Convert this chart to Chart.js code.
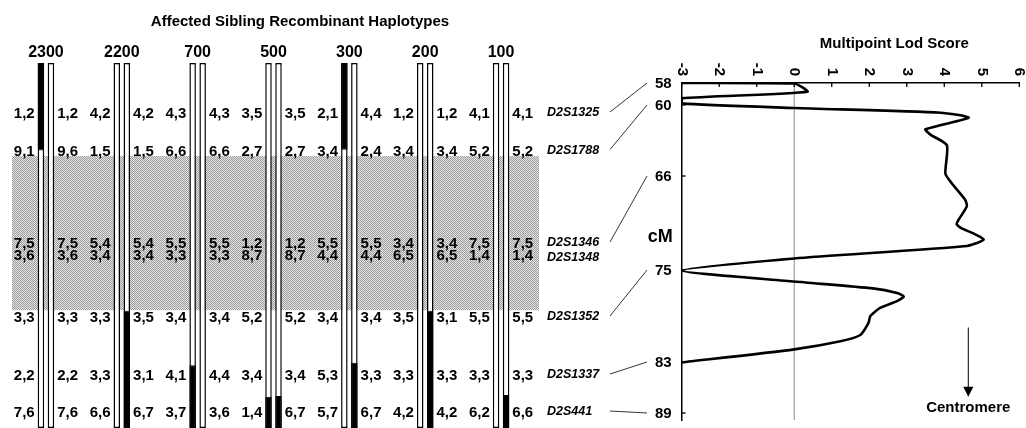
<!DOCTYPE html>
<html lang="en">
<head>
<meta charset="UTF-8">
<title>Affected Sibling Recombinant Haplotypes - Multipoint Lod Score</title>
<script src="https://cdn.jsdelivr.net/npm/chart.js@4.4.2/dist/chart.umd.min.js"></script>
<style>
    html, body { margin: 0; padding: 0; background: #fff; }
    #wrap { position: relative; width: 1026px; height: 428px; overflow: hidden; }
    #hapChart { position: absolute; left: 0; top: 0; }
    #lodChart { position: absolute; left: 600px; top: 0; }
</style>
</head>
<body>
<div id="wrap">
    <canvas id="hapChart" width="620" height="428"></canvas>
    <canvas id="lodChart" width="426" height="428"></canvas>
</div>

<script>
// --- data ---
const families = ['2300', '2200', '700', '500', '300', '200', '100'];
const markers = ['D2S1325', 'D2S1788', 'D2S1346', 'D2S1348', 'D2S1352', 'D2S1337', 'D2S441'];
const markerCM = [58, 60, 66, null, 75, 83, 89];

// alleles written left / right of each chromosome pair, one row per marker
const allelesLeft = [
    ['1,2', '4,2', '4,3', '3,5', '2,1', '1,2', '4,1'],
    ['9,1', '1,5', '6,6', '2,7', '3,4', '3,4', '5,2'],
    ['7,5', '5,4', '5,5', '1,2', '5,5', '3,4', '7,5'],
    ['3,6', '3,4', '3,3', '8,7', '4,4', '6,5', '1,4'],
    ['3,3', '3,3', '3,4', '5,2', '3,4', '3,5', '5,5'],
    ['2,2', '3,3', '4,1', '3,4', '5,3', '3,3', '3,3'],
    ['7,6', '6,6', '3,7', '1,4', '5,7', '4,2', '6,2']
];
const allelesRight = [
    ['1,2', '4,2', '4,3', '3,5', '4,4', '1,2', '4,1'],
    ['9,6', '1,5', '6,6', '2,7', '2,4', '3,4', '5,2'],
    ['7,5', '5,4', '5,5', '1,2', '5,5', '3,4', '7,5'],
    ['3,6', '3,4', '3,3', '8,7', '4,4', '6,5', '1,4'],
    ['3,3', '3,5', '3,4', '5,2', '3,4', '3,1', '5,5'],
    ['2,2', '3,1', '4,4', '3,4', '3,3', '3,3', '3,3'],
    ['7,6', '6,7', '3,6', '6,7', '6,7', '4,2', '6,6']
];

// chromosome extent and black (non-shared) segments, in marker-row units
const chromTop = -1;
const chromEnd = 6.45;
const blackLeft = [[chromTop, 1.0], null, [4.83, chromEnd], [5.59, chromEnd], [chromTop, 0.98], null, null];
const blackRight = [null, [3.9, chromEnd], null, [5.57, chromEnd], [4.79, chromEnd], [3.9, chromEnd], [5.54, chromEnd]];
const sharedRegion = [1.06, 3.89];

// multipoint lod score curve
const lodCM = [58, 58.05, 58.8, 59.4, 59.85, 60.25, 60.65, 61.07, 62.05, 62.5, 63.4, 65.8, 66.7, 68.3, 68.9,
    70.2, 70.6, 71.0, 71.5, 72.1, 72.7, 73.9, 75.05, 76.0, 76.6, 77.0, 77.3, 77.7, 78.3, 79.0, 79.6, 80.65, 81.2, 81.9, 83.05];
const lodScore = [-3, 0, 0.35, -3, -3, 0, 3.9, 4.65, 3.5, 3.63, 4.07, 4.03, 4.2, 4.56, 4.6,
    4.38, 4.33, 4.45, 4.78, 5.05, 4.6, 0, -3, 0, 2.1, 2.74, 2.92, 2.74, 2.29, 2.03, 1.98, 1.76, 1.23, 0, -3];

const lodTicks = [-3, -2, -1, 0, 1, 2, 3, 4, 5, 6];
const cmTicks = [58, 60, 66, 75, 83, 89];

// --- a y scale whose spacing is not uniform (the markers are not evenly spaced) ---
const FONT = '"Liberation Sans", Arial, Helvetica, sans-serif';
const anchorsFor = {
    yRow: { values: [-1, 0, 1, 2, 3, 4, 5, 6, 6.45], decimals: [0, 0.137, 0.2397, 0.4932, 0.526, 0.6959, 0.8548, 0.9562, 1] },
    yCM: { values: [58, 60, 66, 75, 83, 89, 89.86], decimals: [0, 0.0653, 0.276, 0.5549, 0.8279, 0.9792, 1] }
};

function interp(xs, ys, v) {
    let i = 0;
    while (i < xs.length - 2 && v > xs[i + 1]) i++;
    return ys[i] + (v - xs[i]) / (xs[i + 1] - xs[i]) * (ys[i + 1] - ys[i]);
}

class PiecewiseScale extends Chart.LinearScale {
    getPixelForValue(value) {
        if (value === null || value === undefined || isNaN(value)) return NaN;
        const a = anchorsFor[this.id];
        return this.getPixelForDecimal(interp(a.values, a.decimals, value));
    }
    getValueForPixel(pixel) {
        const a = anchorsFor[this.id];
        return interp(a.decimals, a.values, this.getDecimalForPixel(pixel));
    }
}
PiecewiseScale.id = 'piecewise';
PiecewiseScale.defaults = Chart.LinearScale.defaults;
Chart.register(PiecewiseScale);

function stipple(ctx) {
    const c = document.createElement('canvas');
    c.width = 2; c.height = 2;
    const g = c.getContext('2d');
    g.fillStyle = '#e4e4e4';
    g.fillRect(0, 0, 2, 2);
    g.fillStyle = '#9c9c9c';
    g.fillRect(0, 0, 1, 1);
    g.fillRect(1, 1, 1, 1);
    return ctx.createPattern(c, 'repeat');
}

// --- haplotype panel ---
const hapDecor = {
    id: 'hapDecor',
    beforeDatasetsDraw(chart) {
        const { ctx, chartArea } = chart;
        const y = chart.scales.yRow;
        const top = y.getPixelForValue(sharedRegion[0]);
        const bottom = y.getPixelForValue(sharedRegion[1]);
        ctx.save();
        ctx.fillStyle = stipple(ctx);
        ctx.fillRect(chartArea.left + 4, top, chartArea.right - chartArea.left - 4, bottom - top);
        ctx.restore();
    },
    afterDatasetsDraw(chart) {
        const { ctx, chartArea } = chart;
        const x = chart.scales.x, y = chart.scales.yRow;
        const leftBars = chart.getDatasetMeta(2).data;
        const rightBars = chart.getDatasetMeta(3).data;
        ctx.save();
        ctx.fillStyle = '#000';
        ctx.textBaseline = 'middle';

        ctx.font = 'bold 15px ' + FONT;
        ctx.textAlign = 'center';
        ctx.fillText('Affected Sibling Recombinant Haplotypes', chartArea.left + 292, chartArea.top - 41);

        ctx.font = 'bold 16px ' + FONT;
        families.forEach((f, i) => ctx.fillText(f, x.getPixelForValue(i), chartArea.top - 10));

        ctx.font = 'bold 15px ' + FONT;
        markers.forEach((m, r) => {
            const py = y.getPixelForValue(r) + 1;
            families.forEach((f, i) => {
                const lb = leftBars[i], rb = rightBars[i];
                ctx.textAlign = 'right';
                ctx.fillText(allelesLeft[r][i], lb.x - lb.width / 2 - 3, py);
                ctx.textAlign = 'left';
                ctx.fillText(allelesRight[r][i], rb.x + rb.width / 2 + 3, py);
            });
        });

        ctx.font = 'italic bold 12.5px ' + FONT;
        ctx.textAlign = 'left';
        markers.forEach((m, r) => {
            let py = y.getPixelForValue(r);
            if (m === 'D2S1348') py += 3;
            ctx.fillText(m, chartArea.right + 8, py);
        });
        ctx.restore();
    }
};

const barCommon = { borderSkipped: false, yAxisID: 'yRow', barPercentage: 0.65, categoryPercentage: 0.264 };

const hapChart = new Chart(document.getElementById('hapChart'), {
    type: 'bar',
    data: {
        labels: families,
        datasets: [
            { ...barCommon, label: 'left black', data: blackLeft, stack: 'L', backgroundColor: '#000', borderColor: '#000', borderWidth: 1 },
            { ...barCommon, label: 'right black', data: blackRight, stack: 'R', backgroundColor: '#000', borderColor: '#000', borderWidth: 1 },
            { ...barCommon, label: 'left', data: families.map(() => [chromTop, chromEnd]), stack: 'L', backgroundColor: '#fff', borderColor: '#000', borderWidth: 1.5 },
            { ...barCommon, label: 'right', data: families.map(() => [chromTop, chromEnd]), stack: 'R', backgroundColor: '#fff', borderColor: '#000', borderWidth: 1.5 }
        ]
    },
    options: {
        responsive: false,
        animation: false,
        layout: { padding: { left: 8, right: 81, top: 63, bottom: 0 } },
        scales: {
            x: { type: 'category', display: false },
            yRow: { type: 'piecewise', axis: 'y', position: 'left', display: false, reverse: true, stacked: false, min: chromTop, max: chromEnd }
        },
        plugins: { legend: { display: false }, tooltip: { enabled: false } }
    },
    plugins: [hapDecor]
});

// --- lod score panel ---
const lodDecor = {
    id: 'lodDecor',
    beforeDatasetsDraw(chart) {
        const { ctx, chartArea } = chart;
        const x0 = chart.scales.x.getPixelForValue(0);
        ctx.save();
        ctx.strokeStyle = '#8a8a8a';
        ctx.lineWidth = 1;
        ctx.beginPath();
        ctx.moveTo(x0, chartArea.top);
        ctx.lineTo(x0, chartArea.bottom);
        ctx.stroke();
        ctx.restore();
    },
    afterDraw(chart) {
        const { ctx, chartArea } = chart;
        const x = chart.scales.x, y = chart.scales.yCM;
        ctx.save();
        ctx.fillStyle = '#000';
        ctx.strokeStyle = '#000';
        ctx.lineWidth = 1.3;

        // top axis ticks, labels turned a quarter clockwise
        ctx.font = 'bold 15px ' + FONT;
        lodTicks.forEach(v => {
            const px = x.getPixelForValue(v);
            ctx.beginPath();
            ctx.moveTo(px, chartArea.top);
            ctx.lineTo(px, chartArea.top + 4);
            ctx.stroke();
            ctx.save();
            ctx.translate(px, chartArea.top - 7);
            ctx.rotate(Math.PI / 2);
            ctx.textAlign = 'right';
            ctx.textBaseline = 'middle';
            ctx.fillText(String(v), 0, 0);
            ctx.restore();
        });

        // cM ticks
        ctx.textAlign = 'right';
        ctx.textBaseline = 'middle';
        cmTicks.forEach(v => {
            const py = y.getPixelForValue(v);
            ctx.beginPath();
            ctx.moveTo(chartArea.left, py);
            ctx.lineTo(chartArea.left + 4, py);
            ctx.stroke();
            ctx.fillText(String(v), chartArea.left - 10, py + 1);
        });
        ctx.font = 'bold 18px ' + FONT;
        ctx.fillText('cM', chartArea.left - 9, y.getPixelForValue(71.8));

        ctx.font = 'bold 15px ' + FONT;
        ctx.textAlign = 'center';
        ctx.fillText('Multipoint Lod Score', x.getPixelForValue(2.67), chartArea.top - 39);

        // centromere arrow
        const xc = x.getPixelForValue(4.64);
        const yA = y.getPixelForValue(80.0), yB = y.getPixelForValue(87.1);
        ctx.lineWidth = 1;
        ctx.beginPath();
        ctx.moveTo(xc, yA);
        ctx.lineTo(xc, yB - 6);
        ctx.stroke();
        ctx.beginPath();
        ctx.moveTo(xc - 5, yB - 10);
        ctx.lineTo(xc + 5, yB - 10);
        ctx.lineTo(xc, yB);
        ctx.closePath();
        ctx.fill();
        ctx.fillText('Centromere', xc, y.getPixelForValue(88.4));

        // lines joining each marker to its map position
        const rowScale = hapChart.scales.yRow;
        ctx.lineWidth = 0.8;
        markerCM.forEach((cm, r) => {
            if (cm === null) return;
            ctx.beginPath();
            ctx.moveTo(chartArea.left - 71.7, rowScale.getPixelForValue(r) - 1);
            ctx.lineTo(chartArea.left - 34.7, y.getPixelForValue(cm));
            ctx.stroke();
        });
        ctx.restore();
    }
};

new Chart(document.getElementById('lodChart'), {
    type: 'scatter',
    data: {
        datasets: [{
            label: 'Multipoint Lod Score',
            data: lodCM.map((c, i) => ({ x: lodScore[i], y: c })),
            yAxisID: 'yCM',
            showLine: true,
            borderColor: '#000',
            borderWidth: 2.6,
            pointRadius: 0,
            tension: 0.2
        }]
    },
    options: {
        responsive: false,
        animation: false,
        layout: { padding: { left: 81.7, right: 6.7, top: 83, bottom: 8 } },
        scales: {
            x: {
                type: 'linear', position: 'top', min: -3, max: 6,
                ticks: { display: false }, grid: { display: false },
                border: { display: true, color: '#000', width: 1.5 },
                afterFit: s => { s.height = 0; }
            },
            yCM: {
                type: 'piecewise', axis: 'y', position: 'left', reverse: true, min: 58, max: 89.86,
                ticks: { display: false }, grid: { display: false },
                border: { display: true, color: '#000', width: 1.5 },
                afterFit: s => { s.width = 0; }
            }
        },
        plugins: { legend: { display: false }, tooltip: { enabled: false } }
    },
    plugins: [lodDecor]
});
</script>
</body>
</html>
